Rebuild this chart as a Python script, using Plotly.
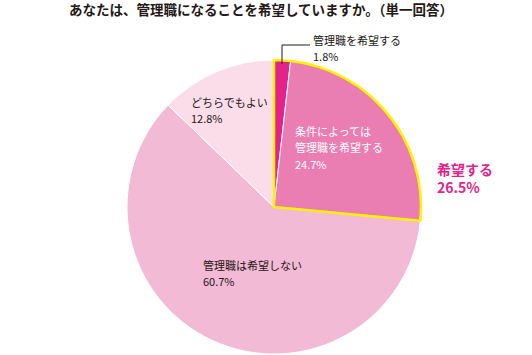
import plotly.graph_objects as go

title = "あなたは、管理職になることを希望していますか。（単一回答）"
labels = ["管理職を希望する", "条件によっては管理職を希望する", "管理職は希望しない", "どちらでもよい"]
values = [1.8, 24.7, 60.7, 12.8]
colors = ["#e3238b", "#ea7db1", "#f3bad5", "#fbdde9"]
group_labels = ["希望する", "その他"]
group_values = [26.5, 73.5]

W, H = 532, 355
dom_x = [127 / W, 421 / W]
dom_y = [1 / H, 295 / H]

fig = go.Figure()
fig.add_trace(go.Pie(
    labels=labels, values=values, sort=False, direction="clockwise", rotation=0,
    marker=dict(colors=colors, line=dict(color="white", width=1)),
    textinfo="none", hoverinfo="label+value", domain=dict(x=dom_x, y=dom_y),
    showlegend=False,
))
fig.add_trace(go.Pie(
    labels=group_labels, values=group_values, sort=False, direction="clockwise", rotation=0,
    marker=dict(colors=["rgba(0,0,0,0)", "rgba(0,0,0,0)"],
                line=dict(color=["#fff200", "rgba(0,0,0,0)"], width=[2.5, 0])),
    textinfo="none", hoverinfo="skip", domain=dict(x=dom_x, y=dom_y),
    showlegend=False,
))

font = "Noto Sans CJK JP"
TXT = "#231815"
def ann(x, y, text, color=TXT, size=11, bold=False, xanchor="left"):
    t = f"<b>{text}</b>" if bold else text
    fig.add_annotation(x=x / W, y=1 - y / H, xref="paper", yref="paper", text=t,
                       showarrow=False, xanchor=xanchor, yanchor="top", align="left",
                       font=dict(family=font, size=size, color=color))

ann(311, 30, labels[0])
ann(311, 46, f"{values[0]}%")
ann(189, 92, labels[3])
ann(189, 108, f"{values[3]}%")
ann(293, 121, "条件によっては", color="white")
ann(293, 137.5, "管理職を希望する", color="white")
ann(293, 154, f"{values[1]}%", color="white")
ann(201, 255, labels[2])
ann(201, 271, f"{values[2]}%")
ann(435, 157, f"{group_labels[0]}<br>{group_values[0]}%", color="#e3238b", size=14, bold=True)
ann(261, -3, title, size=13.5, bold=True, xanchor="center")

fig.add_shape(type="path", xref="paper", yref="paper",
              path=f"M {282/W} {1-64/H} L {282/W} {1-45/H} L {310/W} {1-45/H}",
              line=dict(color=TXT, width=1))

fig.update_layout(
    width=W, height=H, margin=dict(l=0, r=0, t=0, b=0),
    paper_bgcolor="white", plot_bgcolor="white",
)
fig.write_html("out.html", config={"displayModeBar": False},
               post_script="document.body.style.margin='0';")
